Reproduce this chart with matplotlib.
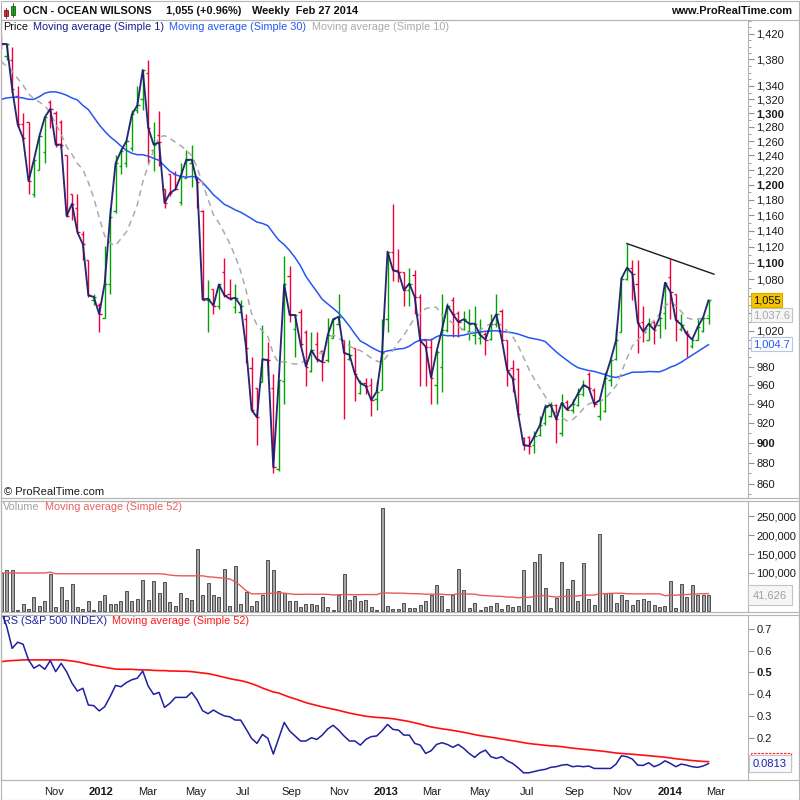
import matplotlib
matplotlib.use('Agg')
import matplotlib.pyplot as plt
import numpy as np
import pandas as pd
from matplotlib.collections import LineCollection
from matplotlib.patches import Rectangle
import matplotlib.transforms as mtransforms

plt.rcParams['font.family'] = ['Liberation Sans', 'DejaVu Sans']

# ---------------- data (weekly bars, last bar Feb 27 2014) ----------------
opens = [1410, 1385, 1379, 1325, 1284, 1287, 1188, 1220, 1245, 1316,
         1300, 1287, 1241, 1188, 1169, 1136, 1104, 1055, 1050, 1035,
         1075, 1165, 1225, 1230, 1250, 1305, 1320, 1360, 1248, 1269,
         1194, 1214, 1215, 1177, 1209, 1229, 1208, 1165, 1056, 1069,
         1049, 1089, 1062, 1047, 1041, 1033, 979, 957, 963, 988,
         957, 874, 964, 1084, 1022, 1041, 1019, 975, 1005, 997,
         987, 1012, 1028, 1010, 988, 1000, 952, 962, 960, 945,
         955, 1033, 1114, 1091, 1089, 1067, 1085, 1059, 1010, 1002,
         960, 980, 1021, 1055, 1040, 1022, 1020, 1015, 1012, 1016,
         1011, 1028, 1043, 1010, 979, 977, 905, 906, 898, 908,
         920, 928, 939, 910, 942, 934, 939, 950, 972, 955,
         928, 933, 965, 988, 1019, 1081, 1094, 1075, 1030, 1009,
         1030, 1026, 1040, 1083, 1063, 1022, 1019, 1003, 1009, 1020,
         1035]
highs = [1418, 1404, 1399, 1340, 1300, 1287, 1234, 1267, 1294, 1319,
         1303, 1290, 1241, 1188, 1188, 1140, 1104, 1063, 1052, 1121,
         1169, 1240, 1250, 1262, 1305, 1340, 1364, 1379, 1287, 1303,
         1194, 1214, 1218, 1229, 1248, 1255, 1210, 1167, 1079, 1069,
         1075, 1106, 1081, 1074, 1055, 1039, 990, 957, 1026, 1007,
         972, 965, 1108, 1096, 1039, 1045, 1021, 1019, 1019, 998,
         1035, 1035, 1063, 1010, 1009, 1000, 965, 968, 968, 964,
         1033, 1114, 1175, 1117, 1089, 1094, 1091, 1063, 1010, 1012,
         998, 1063, 1052, 1059, 1043, 1043, 1045, 1048, 1033, 1018,
         1039, 1063, 1045, 1010, 987, 978, 906, 907, 912, 928,
         940, 942, 940, 950, 944, 945, 957, 966, 974, 957,
         944, 974, 987, 1022, 1083, 1124, 1104, 1104, 1048, 1035,
         1031, 1036, 1077, 1105, 1063, 1039, 1021, 1012, 1035, 1036,
         1055]
lows = [1396, 1379, 1330, 1280, 1262, 1188, 1184, 1220, 1229, 1279,
        1252, 1250, 1158, 1154, 1138, 1104, 1059, 1050, 1019, 1035,
        1063, 1163, 1215, 1224, 1246, 1300, 1304, 1229, 1218, 1225,
        1169, 1185, 1193, 1174, 1209, 1197, 1169, 1055, 1019, 1039,
        1045, 1059, 1055, 1040, 1039, 984, 932, 898, 963, 970,
        870, 872, 940, 1030, 990, 1003, 959, 974, 985, 964,
        985, 1012, 1028, 924, 987, 943, 950, 951, 928, 934,
        955, 1019, 1078, 1077, 1048, 1048, 1039, 959, 959, 940,
        940, 953, 1018, 1013, 1013, 1021, 1009, 1005, 1005, 993,
        1010, 1024, 1009, 959, 953, 926, 893, 889, 890, 907,
        918, 926, 900, 907, 934, 931, 938, 948, 955, 937,
        923, 932, 959, 987, 1019, 1079, 1055, 995, 1007, 1009,
        1005, 1012, 1022, 1033, 1008, 1020, 990, 1001, 1009, 1019,
        1028]
closes = [1404, 1404, 1335, 1284, 1264, 1205, 1234, 1267, 1294, 1306,
          1255, 1255, 1159, 1175, 1138, 1123, 1061, 1059, 1039, 1075,
          1158, 1229, 1246, 1260, 1298, 1311, 1364, 1279, 1255, 1258,
          1176, 1189, 1194, 1212, 1234, 1234, 1204, 1056, 1057, 1049,
          1074, 1061, 1057, 1058, 1049, 1001, 934, 926, 988, 987,
          876, 965, 1074, 1038, 1038, 1005, 980, 998, 988, 985,
          1015, 1033, 1036, 995, 993, 972, 962, 959, 944, 953,
          995, 1114, 1091, 1089, 1067, 1075, 1059, 1009, 1002, 968,
          996, 1021, 1049, 1039, 1030, 1033, 1028, 1028, 1015, 1010,
          1028, 1039, 1010, 976, 967, 930, 898, 897, 907, 918,
          937, 939, 924, 941, 934, 940, 951, 960, 957, 940,
          944, 968, 987, 1009, 1081, 1094, 1087, 1029, 1019, 1028,
          1021, 1035, 1076, 1065, 1032, 1027, 1016, 1010, 1024, 1035,
          1055]
# moving-average values before enough history exists on the chart
ma30_head = [1320, 1322, 1323, 1323, 1322, 1320, 1320, 1324, 1329, 1331,
             1331, 1329, 1326, 1322, 1319, 1311, 1305, 1294, 1283, 1274,
             1266, 1260, 1253, 1247, 1243, 1241, 1241, 1239, 1236]
ma10_head = [1377, 1369, 1362, 1351, 1341, 1328, 1321, 1316, 1311]
ma10_last_label = 1037.6
ma30_last_label = 1004.7

volume_k = [100, 109, 109, 3, 18, 5, 36, 13, 26, 97, 11,
            64, 29, 71, 10, 5, 26, 3, 26, 42, 19,
            19, 26, 53, 26, 31, 81, 29, 79, 47, 77,
            24, 13, 47, 34, 29, 163, 42, 73, 42, 37,
            110, 13, 118, 19, 49, 13, 26, 42, 135, 109,
            52, 47, 26, 26, 11, 18, 18, 16, 36, 11,
            3, 42, 97, 29, 40, 26, 29, 10, 3, 272,
            13, 6, 6, 20, 8, 8, 16, 26, 42, 68,
            40, 5, 42, 110, 54, 8, 20, 3, 10, 13,
            20, 5, 16, 11, 13, 109, 16, 129, 149, 61,
            8, 34, 129, 57, 81, 26, 126, 31, 16, 203,
            47, 47, 20, 42, 29, 16, 29, 31, 26, 16,
            11, 13, 79, 8, 71, 36, 68, 42, 42, 41.626]
vol_ma52_head_k = [100, 100, 100, 100, 100, 100, 100, 100, 100, 102,
                   98, 98, 98, 98, 98, 98, 98, 98, 98, 98,
                   98, 98, 98, 98, 98, 98, 98, 98, 98, 98,
                   97, 94.5, 93, 92.5, 92.5, 92.5, 92.5, 92.5, 90, 89,
                   87.5, 86, 84, 77, 66, 53, 45, 45, 45, 46,
                   47]

rs = [0.78, 0.710, 0.610, 0.638, 0.629, 0.557, 0.519, 0.534, 0.514, 0.554,
      0.503, 0.541, 0.503, 0.450, 0.414, 0.427, 0.350, 0.347, 0.323, 0.342,
      0.388, 0.440, 0.434, 0.453, 0.466, 0.473, 0.506, 0.437, 0.399, 0.408,
      0.339, 0.358, 0.385, 0.385, 0.385, 0.408, 0.373, 0.324, 0.310, 0.327,
      0.312, 0.300, 0.296, 0.281, 0.281, 0.240, 0.197, 0.174, 0.215, 0.197,
      0.125, 0.197, 0.270, 0.231, 0.208, 0.185, 0.185, 0.200, 0.192, 0.212,
      0.240, 0.257, 0.235, 0.208, 0.185, 0.185, 0.166, 0.192, 0.205, 0.208,
      0.232, 0.261, 0.238, 0.235, 0.212, 0.212, 0.174, 0.166, 0.128, 0.140,
      0.169, 0.177, 0.169, 0.156, 0.169, 0.151, 0.128, 0.110, 0.131, 0.143,
      0.113, 0.105, 0.113, 0.094, 0.082, 0.062, 0.039, 0.039, 0.045, 0.051,
      0.055, 0.064, 0.067, 0.074, 0.077, 0.067, 0.070, 0.067, 0.070, 0.059,
      0.059, 0.059, 0.059, 0.079, 0.117, 0.113, 0.102, 0.074, 0.073, 0.085,
      0.067, 0.077, 0.094, 0.082, 0.067, 0.079, 0.074, 0.067, 0.064, 0.070,
      0.0813]
rs_ma52_head = [0.549, 0.552, 0.554, 0.555, 0.557, 0.557, 0.557, 0.557, 0.557, 0.557,
                0.557, 0.557, 0.555, 0.552, 0.548, 0.543, 0.537, 0.532, 0.528, 0.523,
                0.519, 0.515, 0.514, 0.514, 0.514, 0.512, 0.511, 0.511, 0.509, 0.508,
                0.508, 0.506, 0.506, 0.505, 0.505, 0.503, 0.500, 0.497, 0.494, 0.489,
                0.483, 0.477, 0.471, 0.466, 0.462, 0.456, 0.448, 0.439, 0.428, 0.419,
                0.410]

price_ticks = [860, 880, 900, 920, 940, 960, 980, 1000, 1020, 1040, 1060, 1080,
               1100, 1120, 1140, 1160, 1180, 1200, 1220, 1240, 1260, 1280, 1300,
               1320, 1340, 1380, 1420]
vol_ticks = [50000, 100000, 150000, 200000, 250000]
rs_ticks = [0.1, 0.2, 0.3, 0.4, 0.5, 0.6, 0.7]
month_labels = [('2011-11-01', 'Nov'), ('2012-01-01', '2012'), ('2012-03-01', 'Mar'),
                ('2012-05-01', 'May'), ('2012-07-01', 'Jul'), ('2012-09-01', 'Sep'),
                ('2012-11-01', 'Nov'), ('2013-01-01', '2013'), ('2013-03-01', 'Mar'),
                ('2013-05-01', 'May'), ('2013-07-01', 'Jul'), ('2013-09-01', 'Sep'),
                ('2013-11-01', 'Nov'), ('2014-01-01', '2014'), ('2014-03-01', 'Mar')]

# ---------------- derived ----------------
N = len(closes)
x = np.arange(N)
dates = pd.date_range(end='2014-02-27', periods=N, freq='7D')
volume = np.array(volume_k, float) * 1000


def sma(values, n, head):
    v = np.asarray(values, float)
    out = np.empty(len(v))
    out[:len(head)] = head
    for i in range(len(head), len(v)):
        out[i] = v[i - n + 1:i + 1].mean()
    return out


ma30 = sma(closes, 30, ma30_head)
ma10 = sma(closes, 10, ma10_head)
vol_ma = sma(volume, 52, np.array(vol_ma52_head_k) * 1000)
rs_ma = sma(rs, 52, rs_ma52_head)

# ---------------- figure ----------------
W = H = 800
fig = plt.figure(figsize=(8, 8), dpi=100)
fig.patch.set_facecolor('white')


def rect(x0, y0, x1, y1):
    return [x0 / W, 1 - y1 / H, (x1 - x0) / W, (y1 - y0) / H]


ax_p = fig.add_axes(rect(1, 20, 748, 498))
ax_v = fig.add_axes(rect(1, 501, 748, 612))
ax_r = fig.add_axes(rect(1, 615, 748, 780))

GRID = '#b4b4b4'
bar_px = 5.44
first_px = 1.3
xl = ((1 - first_px) / bar_px, (748 - first_px) / bar_px)

for ax in (ax_p, ax_v, ax_r):
    ax.set_xlim(*xl)
    for s in ax.spines.values():
        s.set_color(GRID)
        s.set_linewidth(0.8)
    ax.yaxis.tick_right()
    ax.tick_params(axis='y', which='both', direction='out', colors='#909090',
                   labelcolor='#1a1a1a', labelsize=8, pad=2)
    ax.tick_params(axis='y', which='major', length=4)
    ax.tick_params(axis='y', which='minor', length=2)
    ax.tick_params(axis='x', length=0)
    ax.set_xticks([])


def covered(v, boxes, tol, log=False):
    for b in boxes:
        d = abs(np.log(v / b)) if log else abs(v - b)
        if d < tol:
            return True
    return False


# ----- price panel -----
up = '#00a300'
dn = '#f0003c'
segs, cols = [], []
tk = 0.42
for i in range(N):
    c = up if closes[i] >= opens[i] else dn
    segs += [[(i, lows[i]), (i, highs[i])],
             [(i - tk, opens[i]), (i, opens[i])],
             [(i, closes[i]), (i + tk, closes[i])]]
    cols += [c, c, c]
ax_p.add_collection(LineCollection(segs, colors=cols, linewidths=1.0, zorder=2))
ax_p.plot(x, ma30, color='#2457f5', lw=1.1, zorder=3)
ax_p.plot(x, ma10, color='#ababab', lw=1.1, ls=(0, (4, 3)), zorder=3)
ax_p.plot(x, closes, color='#1c1c6e', lw=1.35, zorder=4, alpha=0.95)

# trend line through the two recent swing highs
i1, i2 = 115, 123
slope = (np.log(highs[i2]) - np.log(highs[i1])) / (i2 - i1)
iend = 131
ax_p.plot([i1, iend], [highs[i1], np.exp(np.log(highs[i1]) + slope * (iend - i1))],
          color='#1a1a1a', lw=1.0, zorder=4)

ax_p.set_yscale('log')
ax_p.set_ylim(846.5, 1442)
price_boxes = [closes[-1], ma10_last_label, ma30_last_label]
ax_p.set_yticks(price_ticks)
lbls = ax_p.set_yticklabels(['' if covered(v, price_boxes, 0.008, log=True) else f'{v:,}'
                             for v in price_ticks])
for v, t in zip(price_ticks, lbls):
    if v % 100 == 0:
        t.set_fontweight('bold')
minor = [v for v in range(850, 1441, 10) if v not in price_ticks]
ax_p.set_yticks(minor, minor=True)
ax_p.yaxis.set_minor_formatter(matplotlib.ticker.NullFormatter())

trans_p = mtransforms.blended_transform_factory(ax_p.transAxes, ax_p.transData)


def vbox(ax, trans, val, text, tc, fc, ec, z=10, pad=0.18):
    ax.text(1.0065, val, text, transform=trans, va='center', ha='left', fontsize=8,
            color=tc, clip_on=False, zorder=z,
            bbox=dict(boxstyle=f'square,pad={pad}', fc=fc, ec=ec, lw=0.8))


vbox(ax_p, trans_p, closes[-1], f'{closes[-1]:,}', '#111111', '#f5c400', '#d9a800', 12)
vbox(ax_p, trans_p, ma10_last_label, f'{ma10_last_label:,.1f}', '#a8a8a8', '#f6f6f6', '#c4c4c4', 11)
vbox(ax_p, trans_p, ma30_last_label, f'{ma30_last_label:,.1f}', '#2457f5', '#ffffff', '#b8c4e8', 11)

ax_p.text(3 / 747, 1 - (492 - 20) / 478, '\u00a9 ProRealTime.com', transform=ax_p.transAxes,
          fontsize=8, color='#1a1a1a', va='center', ha='left')

# ----- volume panel -----
ax_v.bar(x, volume, width=0.55, color='#a6a6a6', edgecolor='#3a3a3a', linewidth=0.6, zorder=2)
ax_v.plot(x, vol_ma, color='#e85a5a', lw=1.0, zorder=3)
ax_v.set_ylim(-3000, 290000)
ax_v.set_yticks(vol_ticks)
ax_v.set_yticklabels(['' if covered(v, [volume[-1]], 15000) else f'{v:,}' for v in vol_ticks])
trans_v = mtransforms.blended_transform_factory(ax_v.transAxes, ax_v.transData)
ax_v.text(1.0065, volume[-1], f'{volume[-1]:,.0f}', transform=trans_v, va='center', ha='left',
          fontsize=8, color='#a0a0a0', clip_on=False, zorder=10,
          bbox=dict(boxstyle='square,pad=0.45', fc='#f6f6f6', ec='#c4c4c4', lw=0.8))

# ----- RS panel -----
ax_r.plot(x, rs_ma, color='#ff1010', lw=1.2, zorder=3)
ax_r.plot(x, rs, color='#1f1fa0', lw=1.1, zorder=4)
ax_r.set_ylim(0.006, 0.763)
ax_r.set_yticks(rs_ticks)
rl = ax_r.set_yticklabels(['' if covered(v, [rs[-1], rs_ma[-1]], 0.04) else f'{v:.1f}'
                           for v in rs_ticks])
for v, t in zip(rs_ticks, rl):
    if abs(v - 0.5) < 1e-9:
        t.set_fontweight('bold')
trans_r = mtransforms.blended_transform_factory(ax_r.transAxes, ax_r.transData)
# red marker of the RS moving-average value, mostly hidden behind the RS value box
ax_r.add_patch(Rectangle((1.0045, rs_ma[-1] - 0.03), 0.0525, 0.07, transform=trans_r,
                         fill=False, ec='#ff3030', lw=0.9, ls=(0, (2, 1)), clip_on=False, zorder=9))
ax_r.text(1.0065, rs[-1], f'{rs[-1]:.4f}', transform=trans_r, va='center', ha='left',
          fontsize=8, color='#1f1fa0', clip_on=False, zorder=10,
          bbox=dict(boxstyle='square,pad=0.35', fc='#f8f8ff', ec='#c4c4c4', lw=0.8))

# month labels
pos, labs = [], []
for d, lab in month_labels:
    pos.append((pd.Timestamp(d) - dates[0]).days / 7 + 1.0)
    labs.append(lab)
ax_r.set_xticks(pos)
xl_t = ax_r.set_xticklabels(labs, fontsize=8, color='#1a1a1a')
for t in xl_t:
    if t.get_text().isdigit():
        t.set_fontweight('bold')
ax_r.tick_params(axis='x', length=0, pad=5)

# ----- frames -----
for (y0, y1) in [(20, 498), (501, 612), (615, 780)]:
    fig.patches.append(Rectangle((0.5 / W, 1 - y1 / H), 798.5 / W, (y1 - y0) / H,
                                 transform=fig.transFigure, fill=False, ec=GRID, lw=0.8))
fig.patches.append(Rectangle((0.5 / W, 0.5 / H), 798.5 / W, 798.5 / H,
                             transform=fig.transFigure, fill=False, ec=GRID, lw=0.8))

# ----- header -----
HF = 7.9
fig.text(23 / W, 1 - 10.5 / H, 'OCN - OCEAN WILSONS', fontsize=HF, fontweight='bold',
         va='center', ha='left', color='#111111')
fig.text(166 / W, 1 - 10.5 / H, f'{closes[-1]:,} (+0.96%)', fontsize=HF, fontweight='bold',
         va='center', ha='left', color='#111111')
fig.text(252 / W, 1 - 10.5 / H, 'Weekly  ' + dates[-1].strftime('%b %d %Y'), fontsize=HF,
         fontweight='bold', va='center', ha='left', color='#111111')
fig.text(792 / W, 1 - 10.5 / H, 'www.ProRealTime.com', fontsize=HF, fontweight='bold',
         va='center', ha='right', color='#111111')
# little candle icon
fig.patches.append(Rectangle((4 / W, 1 - 16 / H), 4 / W, 6 / H, transform=fig.transFigure,
                             fc='#e0303a', ec='#7a1a1a', lw=0.6))
fig.patches.append(Rectangle((11 / W, 1 - 15 / H), 4 / W, 9 / H, transform=fig.transFigure,
                             fc='#22b022', ec='#1a5a1a', lw=0.6))
fig.lines.append(plt.Line2D([6 / W, 6 / W], [1 - 18 / H, 1 - 8 / H], transform=fig.transFigure,
                            color='#7a1a1a', lw=0.6))
fig.lines.append(plt.Line2D([13 / W, 13 / W], [1 - 17 / H, 1 - 3 / H], transform=fig.transFigure,
                            color='#1a5a1a', lw=0.6))

# ----- legend rows -----
renderer = fig.canvas.get_renderer()


def legend_row(items, x0, yc, fs=7.8):
    xpos = x0
    padpx = 2.6
    for text, color in items:
        t = fig.text((xpos + padpx) / W, 1 - yc / H, text, fontsize=fs, color=color,
                     va='center', ha='left')
        bb = t.get_window_extent(renderer)
        wpx = bb.width + 2 * padpx
        fig.patches.append(Rectangle((xpos / W, 1 - (yc + 6.5) / H), wpx / W, 13 / H,
                                     transform=fig.transFigure, fc='#f7f7f7', ec='#b8b8b8',
                                     lw=0.8, zorder=-1))
        xpos += wpx


legend_row([('Price', '#111111'), ('Moving average (Simple 1)', '#1c1c8e'),
            ('Moving average (Simple 30)', '#2457f5'), ('Moving average (Simple 10)', '#aaaaaa')],
           0.5, 26.5)
legend_row([('Volume', '#a0a0a0'), ('Moving average (Simple 52)', '#e86060')], 0.5, 507.5)
legend_row([('RS (S&P 500 INDEX)', '#1f1fa0'), ('Moving average (Simple 52)', '#ff1a1a')],
           0.5, 621.5)

fig.savefig('out.png', dpi=100, facecolor='white')
